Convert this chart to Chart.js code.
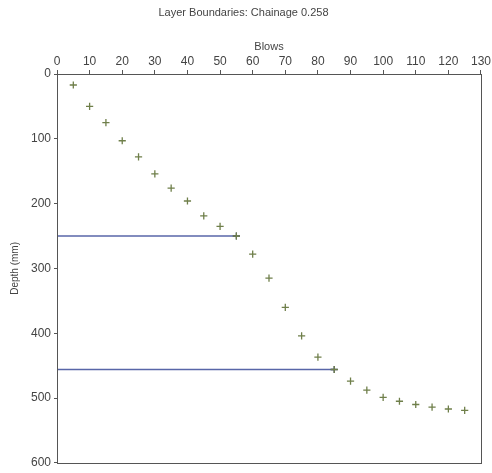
<!DOCTYPE html>
<html>
<head>
<meta charset="utf-8">
<script src="https://cdn.jsdelivr.net/npm/chart.js@4/dist/chart.umd.min.js"></script>
<style>
	html, body { margin: 0; padding: 0; background: #fff; }
	#wrap { width: 492px; height: 473px; }
</style>
</head>
<body>
<div id="wrap"><canvas id="DepthChartCanvas" width="492" height="473"></canvas></div>
<script>
// blow count vs depth readings
var blows = [5, 10, 15, 20, 25, 30, 35, 40, 45, 50, 55, 60, 65, 70, 75, 80, 85, 90, 95, 100, 105, 110, 115, 120, 125];
var depths = [17, 50, 75, 103, 128, 154, 176, 196, 219, 235, 250, 278, 315, 360, 404, 437, 456, 474, 488, 499, 505, 510, 514, 517, 519];
// layer boundaries (depth, blows at end of line)
var boundaryDepths = [250, 456];
var boundaryBlows = [55, 85];
var xTicks = [0, 10, 20, 30, 40, 50, 60, 70, 80, 90, 100, 110, 120, 130];
var yTicks = [0, 100, 200, 300, 400, 500, 600];

var textColor = '#444';
var fontName = '"Liberation Sans", Arial, sans-serif';

var points = [];
for(var i = 0; i < blows.length; i++) {
	points.push({x: blows[i], y: depths[i]});
}

var datasets = [{
	label: 'Blows',
	data: points,
	showLine: false,
	pointStyle: 'cross',
	pointRadius: 3.6,
	pointBorderWidth: 1.3,
	borderColor: '#6f7f4a',
	backgroundColor: '#6f7f4a'
}];
for(var j = 0; j < boundaryDepths.length; j++) {
	datasets.push({
		label: 'Boundary ' + (j + 1),
		data: [{x: 0, y: boundaryDepths[j]}, {x: boundaryBlows[j], y: boundaryDepths[j]}],
		showLine: true,
		borderColor: '#5866a8',
		borderWidth: 1.3,
		pointStyle: 'cross',
		pointRadius: [0, 3.6],
		pointBorderWidth: 1.3,
		pointBorderColor: '#3f4a7a'
	});
}

// border round the plot area
var frame = {
	id: 'frame',
	afterDraw: function(chart) {
		var a = chart.chartArea;
		var c = chart.ctx;
		c.save();
		c.strokeStyle = '#555';
		c.lineWidth = 1;
		c.strokeRect(Math.round(a.left) + 0.5, Math.round(a.top) + 0.5, Math.round(a.right - a.left), Math.round(a.bottom - a.top));
		c.restore();
	}
};

var ctx = document.getElementById('DepthChartCanvas').getContext('2d');
window.depthChart = new Chart(ctx, {
	type: 'scatter',
	data: {datasets: datasets},
	plugins: [frame],
	options: {
		responsive: false,
		animation: false,
		layout: {padding: {left: 0, right: 5, top: 0, bottom: 6}},
		plugins: {
			legend: {display: false},
			tooltip: {enabled: false},
			title: {
				display: true,
				text: 'Layer Boundaries: Chainage 0.258',
				color: textColor,
				font: {family: fontName, size: 11, weight: 'normal'},
				padding: {top: 6, bottom: 0}
			}
		},
		scales: {
			x: {
				type: 'linear',
				position: 'top',
				min: 0,
				max: 130,
				afterBuildTicks: function(scale) {
					scale.ticks = xTicks.map(function(v) { return {value: v}; });
				},
				afterFit: function(scale) { scale.height = 54.8; },
				grid: {drawOnChartArea: false, color: '#555', tickLength: 4},
				border: {color: '#555'},
				ticks: {color: textColor, padding: 1, font: {family: fontName, size: 12}, maxRotation: 0},
				title: {display: true, text: 'Blows', color: textColor, font: {family: fontName, size: 11}, padding: {top: 21, bottom: 0}}
			},
			y: {
				type: 'linear',
				reverse: true,
				min: 0,
				max: 600,
				afterBuildTicks: function(scale) {
					scale.ticks = yTicks.map(function(v) { return {value: v}; });
				},
				afterFit: function(scale) { scale.width = 57; },
				grid: {drawOnChartArea: false, color: '#555', tickLength: 3},
				border: {color: '#555'},
				ticks: {color: textColor, padding: 3, font: {family: fontName, size: 12}},
				title: {display: true, text: 'Depth (mm)', color: textColor, font: {family: fontName, size: 10}, padding: {top: 9, bottom: 0}}
			}
		}
	}
});
</script>
</body>
</html>
